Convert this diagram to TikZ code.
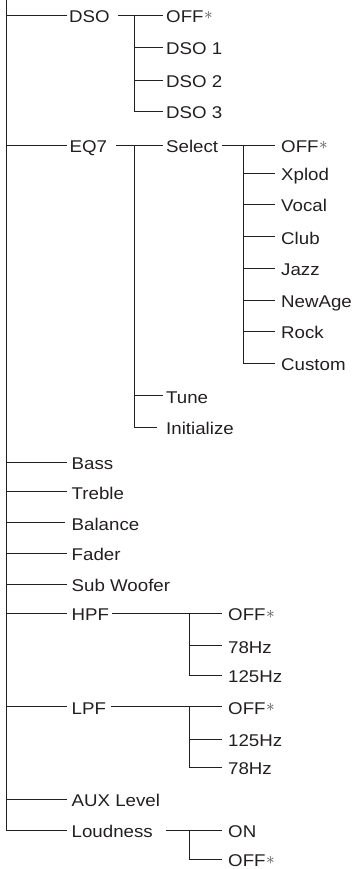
\documentclass[tikz,border=0pt]{standalone}
\usepackage{fontspec}
\setmainfont[FakeStretch=1.1]{Liberation Sans}
\definecolor{ink}{HTML}{231F20}
\newcommand{\offstar}{\hspace{0.5pt}\raisebox{2.6pt}{\textcolor{ink!80}{$\ast$}}}
\begin{document}
\begin{tikzpicture}[x=1pt,y=-1pt,
  lbl/.style={inner sep=0pt, anchor=west, text height=15pt, text depth=0pt,
              text=ink, font=\fontsize{17}{20}\selectfont},
  conn/.style={draw=ink, line width=0.9pt}]
\useasboundingbox (0,0) rectangle (353,869);
% level 1
\node[lbl] (dso) at (69,15) {DSO};
\node[lbl] (eq) at (69.5,145) {EQ7};
\node[lbl] (bass) at (71.5,462.3) {Bass};
\node[lbl] (treble) at (71.5,491.7) {Treble};
\node[lbl] (balance) at (71.5,522.7) {Balance};
\node[lbl] (fader) at (71.5,553.3) {Fader};
\node[lbl] (sub) at (71.5,584) {Sub Woofer};
\node[lbl] (hpf) at (71.5,613.3) {HPF};
\node[lbl] (lpf) at (71.5,706.7) {LPF};
\node[lbl] (aux) at (71.5,799) {AUX Level};
\node[lbl] (loud) at (71.5,830) {Loudness};
% DSO children
\node[lbl] (doff) at (166,15) {OFF\offstar};
\node[lbl] (done) at (166,47) {DSO 1};
\node[lbl] (dtwo) at (166,80) {DSO 2};
\node[lbl] (dthree) at (166,111) {DSO 3};
% EQ7 children
\node[lbl] (select) at (166,145) {Select};
\node[lbl] (tune) at (166,395.7) {Tune};
\node[lbl] (init) at (166,427.3) {Initialize};
% Select children
\node[lbl] (soff) at (281,145) {OFF\offstar};
\node[lbl] (xplod) at (281,173.3) {Xplod};
\node[lbl] (vocal) at (281,204.3) {Vocal};
\node[lbl] (club) at (281,236.7) {Club};
\node[lbl] (jazz) at (281,268.3) {Jazz};
\node[lbl] (newage) at (281,300) {NewAge};
\node[lbl] (rock) at (281,331) {Rock};
\node[lbl] (custom) at (281,363.3) {Custom};
% HPF children
\node[lbl] (hoff) at (228,613.3) {OFF\offstar};
\node[lbl] (hseventy) at (228,645.7) {78Hz};
\node[lbl] (honetwo) at (228,675) {125Hz};
% LPF children
\node[lbl] (loff) at (228,706.7) {OFF\offstar};
\node[lbl] (lonetwo) at (228,739) {125Hz};
\node[lbl] (lseventy) at (228,767.3) {78Hz};
% Loudness children
\node[lbl] (on) at (228,830) {ON};
\node[lbl] (ldoff) at (228,859.3) {OFF\offstar};

% trunk
\coordinate (ttop) at (6,0);
\draw[conn] (ttop) |- ([xshift=-4.8pt]loud.west);
\draw[conn] (ttop |- dso.west) -- ([xshift=-2.3pt]dso.west);
\draw[conn] (ttop |- eq.west) -- ([xshift=-2.8pt]eq.west);
\foreach \n in {bass,treble,fader,sub,hpf,lpf,aux}
  \draw[conn] (ttop |- \n.west) -- ([xshift=-4.8pt]\n.west);
\draw[conn] (ttop |- balance.west) -- ([xshift=-6.5pt]balance.west);

% DSO group
\coordinate (jdso) at (134,15);
\draw[conn] ([xshift=8.5pt]dso.east) -- ([xshift=-3pt]doff.west);
\draw[conn] (jdso) |- ([xshift=-3pt]dthree.west);
\foreach \n in {done,dtwo}
  \draw[conn] (jdso |- \n.west) -- ([xshift=-3pt]\n.west);

% EQ7 group
\coordinate (jeq) at (134,145);
\draw[conn] ([xshift=8.6pt]eq.east) -- ([xshift=-3pt]select.west);
\draw[conn] (jeq) |- ([xshift=-9.3pt]init.west);
\draw[conn] (jeq |- tune.west) -- ([xshift=-3pt]tune.west);

% Select group
\coordinate (jsel) at (243,145);
\draw[conn] ([xshift=4pt]select.east) -- ([xshift=-6pt]soff.west);
\draw[conn] (jsel) |- ([xshift=-6pt]custom.west);
\foreach \n in {xplod,vocal,club,jazz,newage,rock}
  \draw[conn] (jsel |- \n.west) -- ([xshift=-6pt]\n.west);

% HPF group
\coordinate (jhpf) at (189,613.3);
\draw[conn] ([xshift=3pt]hpf.east) -- ([xshift=-6pt]hoff.west);
\draw[conn] (jhpf) |- ([xshift=-6pt]honetwo.west);
\draw[conn] (jhpf |- hseventy.west) -- ([xshift=-6pt]hseventy.west);

% LPF group
\coordinate (jlpf) at (189,706.7);
\draw[conn] ([xshift=5pt]lpf.east) -- ([xshift=-6pt]loff.west);
\draw[conn] (jlpf) |- ([xshift=-6pt]lseventy.west);
\draw[conn] (jlpf |- lonetwo.west) -- ([xshift=-6pt]lonetwo.west);

% Loudness group
\coordinate (jloud) at (189,830);
\draw[conn] ([xshift=12.5pt]loud.east) -- ([xshift=-6pt]on.west);
\draw[conn] (jloud) |- ([xshift=-6pt]ldoff.west);
\end{tikzpicture}
\end{document}
